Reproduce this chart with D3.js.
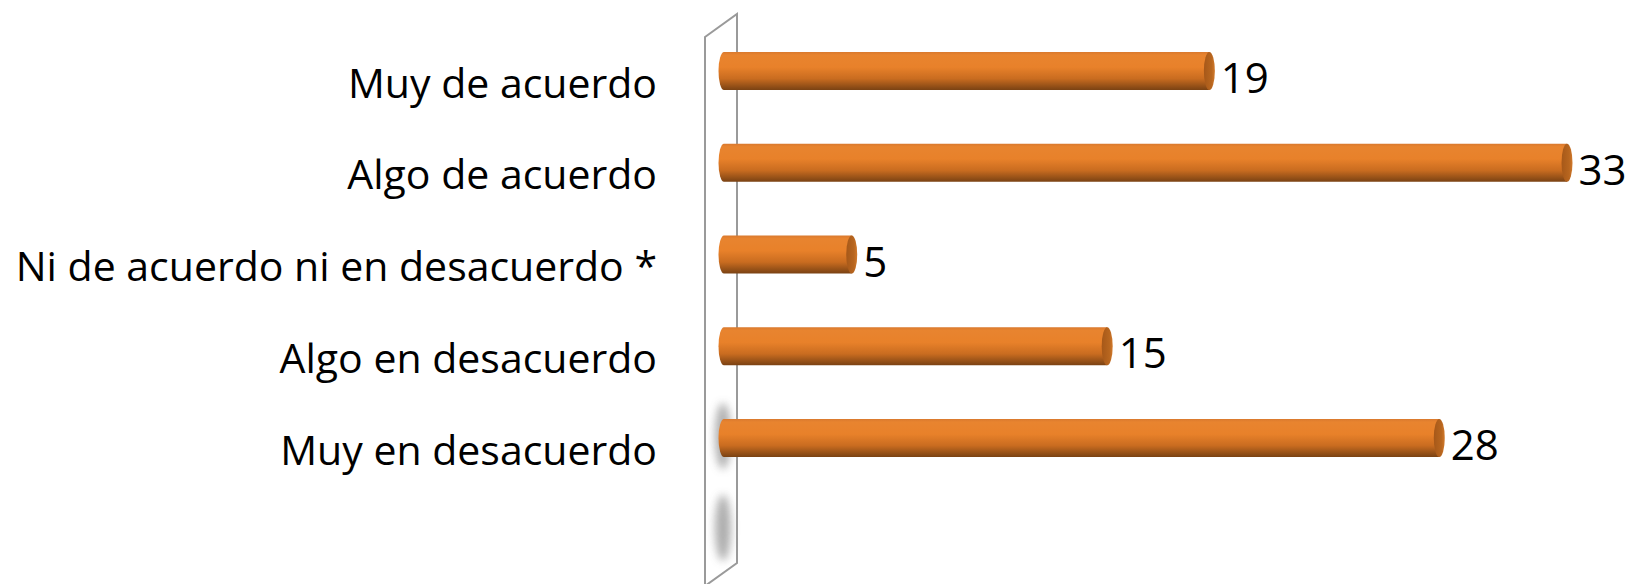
<!DOCTYPE html>
<html>
<head>
<meta charset="utf-8">
<script src="https://cdn.jsdelivr.net/npm/d3@7"></script>
<style>
  body { margin: 0; background: #fff; }
  svg { display: block; }
</style>
</head>
<body>
<div id="chart"></div>
<script>
/* Data */
const categories = [
    "Muy de acuerdo",
    "Algo de acuerdo",
    "Ni de acuerdo ni en desacuerdo *",
    "Algo en desacuerdo",
    "Muy en desacuerdo"
];
const values = [19, 33, 5, 15, 28];
// the 3D wall keeps one empty slot below the last bar
const slots = [...categories, ""];
const shadowSlots = ["Muy en desacuerdo", ""];

const W = 1628, H = 584;
const barH = 38, capRx = 5.5;

const svg = d3.select("#chart").append("svg")
    .attr("width", W)
    .attr("height", H);

const defs = svg.append("defs");

/* Cylinder shading */
const body = defs.append("linearGradient")
    .attr("id", "cyl").attr("x1", 0).attr("y1", 0).attr("x2", 0).attr("y2", 1);
[["0%", "#d9792e"], ["8%", "#e8842f"], ["40%", "#e8812a"], ["70%", "#c96c20"], ["100%", "#7a4213"]]
    .forEach(s => body.append("stop").attr("offset", s[0]).attr("stop-color", s[1]));

const face = defs.append("linearGradient")
    .attr("id", "face").attr("x1", 0).attr("y1", 0).attr("x2", 1).attr("y2", 0);
[["0%", "#a65819"], ["70%", "#b8661f"], ["100%", "#d27a2c"]]
    .forEach(s => face.append("stop").attr("offset", s[0]).attr("stop-color", s[1]));

defs.append("filter").attr("id", "blur")
    .attr("x", "-100%").attr("y", "-50%").attr("width", "300%").attr("height", "200%")
  .append("feGaussianBlur").attr("stdDeviation", 4);

/* Scales */
const x = d3.scaleLinear().domain([0, 33]).range([724, 1567]);
const y = d3.scalePoint().domain(slots).range([71, 71 + 5 * 91.75]);

/* Back wall */
const wallL = 705, wallR = 737;
svg.append("path")
    .attr("d", `M${wallL},37 L${wallR},14 L${wallR},563 L${wallL},586 Z`)
    .attr("fill", "#fff")
    .attr("stroke", "#9a9a9a")
    .attr("stroke-width", 2);

svg.selectAll(".shadow")
    .data(shadowSlots)
    .join("ellipse")
      .attr("class", "shadow")
      .attr("cx", 723)
      .attr("cy", d => y(d) - 2)
      .attr("rx", 8)
      .attr("ry", 33)
      .attr("fill", "#a0a0a0")
      .attr("opacity", 0.85)
      .attr("filter", "url(#blur)");

/* Bars */
const data = categories.map((c, i) => ({ c, v: values[i] }));
const bars = svg.selectAll(".bar")
    .data(data)
    .join("g")
      .attr("class", "bar");

bars.append("path")
    .attr("d", d => {
        const x0 = x(0), x1 = x(d.v), top = y(d.c) - barH / 2;
        return `M${x1},${top} L${x0},${top} A${capRx},${barH / 2} 0 0 0 ${x0},${top + barH} L${x1},${top + barH} Z`;
    })
    .attr("fill", "url(#cyl)");

bars.append("ellipse")
    .attr("cx", d => x(d.v))
    .attr("cy", d => y(d.c))
    .attr("rx", capRx)
    .attr("ry", barH / 2)
    .attr("fill", "url(#face)");

/* Value labels */
bars.append("text")
    .attr("x", d => x(d.v) + capRx + 6)
    .attr("y", d => y(d.c) + 22)
    .style("font-family", "'Open Sans', sans-serif")
    .style("font-size", "42px")
    .style("fill", "#000")
    .text(d => d.v);

/* Category labels */
svg.selectAll(".cat")
    .data(categories)
    .join("text")
      .attr("class", "cat")
      .attr("x", 657)
      .attr("y", d => y(d) + 26.5)
      .attr("text-anchor", "end")
      .style("font-family", "'Open Sans', sans-serif")
      .style("font-size", "41px")
      .style("fill", "#000")
      .text(d => d);
</script>
</body>
</html>
